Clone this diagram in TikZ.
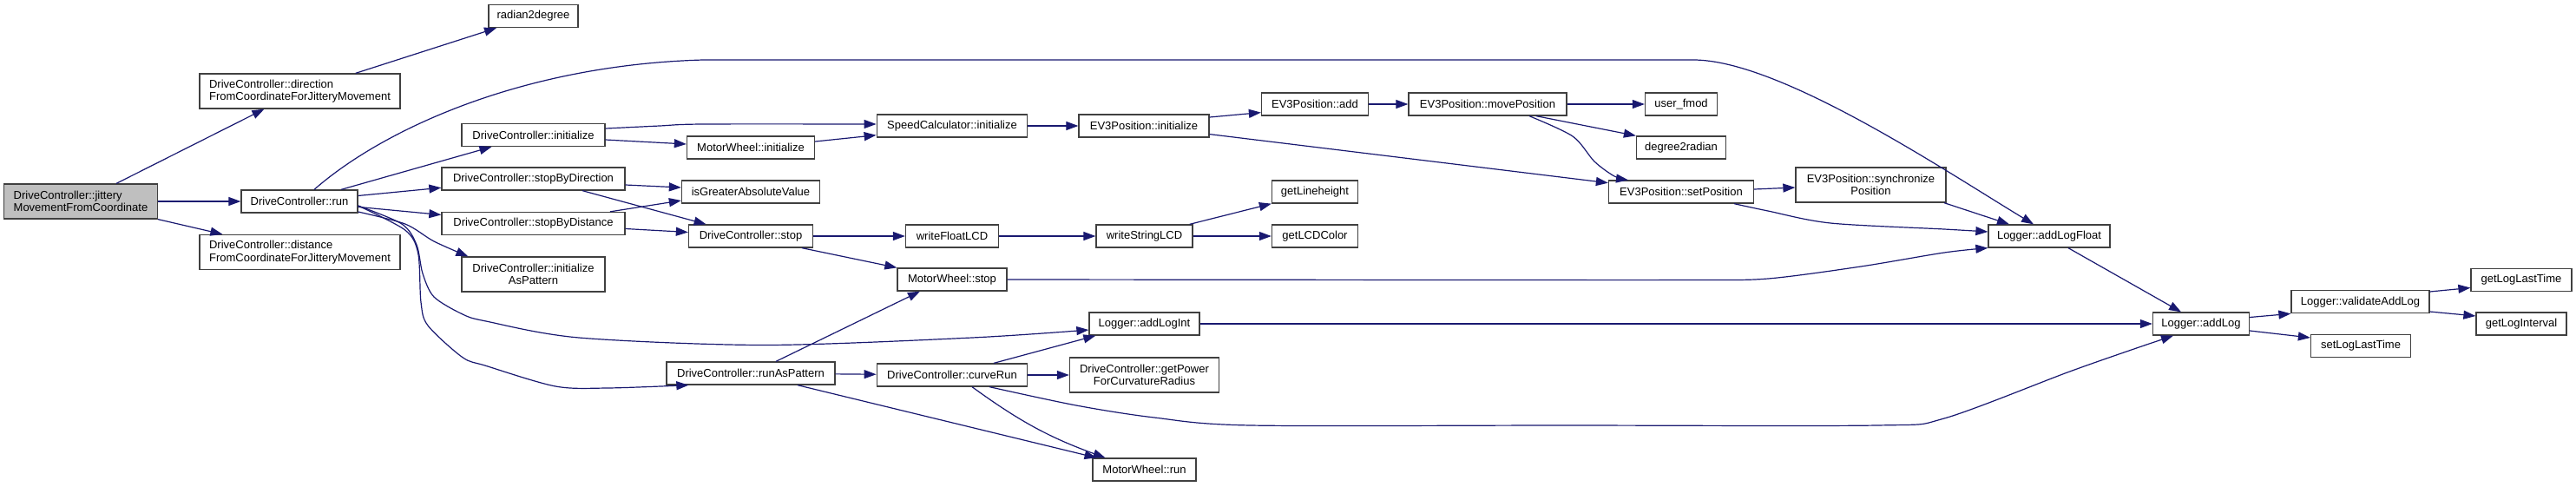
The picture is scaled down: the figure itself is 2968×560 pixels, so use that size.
\documentclass[tikz,border=0pt]{standalone}
\usepackage{fontspec}
\setmainfont{Liberation Sans}
\usetikzlibrary{arrows.meta}

\definecolor{edgeblue}{HTML}{191970}
\definecolor{rootgrey}{HTML}{BFBFBF}
\definecolor{boxline}{HTML}{404040}

\tikzset{
    fn/.style={draw=boxline, line width=1.3pt, fill=white, font=\fontsize{13}{14.6}\selectfont,
        inner xsep=5pt, inner ysep=0pt, minimum height=26pt, align=center},
    fntwo/.style={fn, minimum height=40pt},
    rootfn/.style={fntwo, fill=rootgrey, align=left},
    call/.style={draw=edgeblue, line width=1.2pt, -{Triangle[length=14pt,width=10pt]}},
}

\begin{document}
\begin{tikzpicture}[x=1pt, y=-1pt]
            \useasboundingbox (0,0) rectangle (2968,560);

            % callers and first level
            \node[rootfn, minimum width=177pt] (jittery) at (93,232) {DriveController::jittery\\MovementFromCoordinate};
            \node[fntwo, align=left, minimum width=231pt] (direction) at (345.5,105) {DriveController::direction\\FromCoordinateForJitteryMovement};
            \node[fn, minimum width=134pt] (run) at (345,232) {DriveController::run};
            \node[fntwo, align=left, minimum width=231pt] (distance) at (345.5,290.5) {DriveController::distance\\FromCoordinateForJitteryMovement};

            \node[fn, minimum width=103pt] (rad2deg) at (614.5,18.6) {radian2degree};
            \node[fn, minimum width=165pt] (dcinit) at (614.5,155.5) {DriveController::initialize};
            \node[fn, minimum width=211pt] (stopdir) at (614.5,206) {DriveController::stopByDirection};
            \node[fn, minimum width=211pt] (stopdist) at (614.5,257.5) {DriveController::stopByDistance};
            \node[fntwo, minimum width=165pt] (initpat) at (614.5,316) {DriveController::initialize\\AsPattern};

            \node[fn, minimum width=147pt] (mwinit) at (865,170) {MotorWheel::initialize};
            \node[fn, minimum width=159pt] (greater) at (865,221) {isGreaterAbsoluteValue};
            \node[fn, minimum width=143pt] (dcstop) at (865,272) {DriveController::stop};
            \node[fn, minimum width=194pt] (runpat) at (865,430) {DriveController::runAsPattern};

            \node[fn, minimum width=173.5pt] (speedinit) at (1097,145) {SpeedCalculator::initialize};
            \node[fn, minimum width=107pt] (writefloat) at (1097,272) {writeFloatLCD};
            \node[fn, minimum width=126pt] (mwstop) at (1097,322) {MotorWheel::stop};
            \node[fn, minimum width=173.5pt] (curverun) at (1097,432) {DriveController::curveRun};

            \node[fn, minimum width=150pt] (ev3init) at (1318,145) {EV3Position::initialize};
            \node[fn, minimum width=111pt] (writestring) at (1318.5,272) {writeStringLCD};
            \node[fn, minimum width=127pt] (addlogint) at (1318.5,373) {Logger::addLogInt};
            \node[fntwo, minimum width=172pt] (getpower) at (1318.5,432) {DriveController::getPower\\ForCurvatureRadius};
            \node[fn, minimum width=119pt] (mwrun) at (1318.5,541) {MotorWheel::run};

            \node[fn, minimum width=123pt] (ev3add) at (1515,120) {EV3Position::add};
            \node[fn, minimum width=99pt] (lineheight) at (1515,221) {getLineheight};
            \node[fn, minimum width=99pt] (lcdcolor) at (1515,272) {getLCDColor};

            \node[fn, minimum width=182pt] (movepos) at (1714,120) {EV3Position::movePosition};
            \node[fn, minimum width=83pt] (fmod) at (1937,120) {user\_fmod};
            \node[fn, minimum width=103pt] (deg2rad) at (1937,170) {degree2radian};
            \node[fn, minimum width=167pt] (setpos) at (1937,221) {EV3Position::setPosition};
            \node[fntwo, minimum width=173pt] (syncpos) at (2155.5,213) {EV3Position::synchronize\\Position};

            \node[fn, minimum width=140pt] (addlogfloat) at (2361,272) {Logger::addLogFloat};
            \node[fn, minimum width=111pt] (addlog) at (2536,373) {Logger::addLog};
            \node[fn, minimum width=159pt] (validate) at (2719.5,347.7) {Logger::validateAddLog};
            \node[fn, minimum width=115pt] (setlast) at (2720,398.6) {setLogLastTime};
            \node[fn, minimum width=116pt] (getlast) at (2905,322.5) {getLogLastTime};
            \node[fn, minimum width=104pt] (getint) at (2905,373) {getLogInterval};

            % root
            \draw[call] (jittery) -- (direction);
            \draw[call] (jittery) -- (run);
            \draw[call] (jittery) -- (distance);
            \draw[call] (direction) -- (rad2deg);

            % run
            \draw[call] ([xshift=17pt]run.north) .. controls (440,150) and (600,75) .. (810,69) -- (1951,69) .. controls (2051,69) and (2243,198) .. ([xshift=-18pt]addlogfloat.north);
            \draw[call] (run) -- (dcinit);
            \draw[call] (run) -- (stopdir);
            \draw[call] (run) -- (stopdist);
            \draw[call] plot[smooth] coordinates {([yshift=-12pt]run.east) (466.7,258) (500,278) ([xshift=8pt]initpat.north west)};
            \draw[call] plot[smooth] coordinates {([yshift=-5pt]run.east) (463,258) (480,282) (487,315) (500,342) (533,362) (560,370) (667,389) (881,397.5) (1120,389) ([yshift=-7pt]addlogint.west)};
            \draw[call] plot[smooth] coordinates {([yshift=-5pt]run.east) (466.7,265) (481.7,291.7) (485,348) (493,375) (533,411.7) (560,421.4) (640,445) (700,447) ([xshift=26pt]runpat.south west)};

            % initialize
            \draw[call] plot[smooth] coordinates {([yshift=7.5pt]dcinit.east) (760,145) (810,143) ([yshift=2pt]speedinit.west)};
            \draw[call] ([yshift=-5.5pt]dcinit.east) -- ([yshift=4pt]mwinit.west);
            \draw[call] ([yshift=7pt]mwinit.east) -- ([yshift=-10.7pt]speedinit.west);
            \draw[call] (speedinit) -- (ev3init);
            \draw[call] ([yshift=10pt]ev3init.east) -- ([yshift=-9.6pt]ev3add.west);
            \draw[call] ([yshift=-9.6pt]ev3init.east) -- ([yshift=10.3pt]setpos.west);
            \draw[call] (ev3add) -- (movepos);
            \draw[call] (movepos) -- (fmod);
            \draw[call] ([xshift=56pt]movepos.south) -- (deg2rad.north west);
            \draw[call] plot[smooth] coordinates {([xshift=48pt]movepos.south) (1812,157) (1837,186) (1860,203) ([xshift=-61pt]setpos.north)};
            \draw[call] ([yshift=3pt]setpos.east) -- ([yshift=-3pt]syncpos.west);
            \draw[call] plot[smooth] coordinates {([xshift=61pt]setpos.south) (2037,243) (2109,257) (2240,264) ([yshift=5pt]addlogfloat.west)};
            \draw[call] ([xshift=84.5pt]syncpos.south) -- ([xshift=-46pt]addlogfloat.north);

            % stop
            \draw[call] ([yshift=-7pt]stopdir.east) -- ([yshift=5pt]greater.west);
            \draw[call] ([xshift=56.5pt]stopdir.south) -- ([xshift=-51.4pt]dcstop.north);
            \draw[call] ([xshift=88.5pt]stopdist.north) -- ([yshift=-10pt]greater.west);
            \draw[call] ([yshift=-6pt]stopdist.east) -- ([yshift=4.5pt]dcstop.west);
            \draw[call] (dcstop) -- (writefloat);
            \draw[call] (writefloat) -- (writestring);
            \draw[call] ([xshift=-4pt]writestring.north east) -- (lineheight.south west);
            \draw[call] (writestring) -- (lcdcolor);
            \draw[call] ([xshift=59pt]dcstop.south) -- (mwstop.north west);
            \draw[call] plot[smooth] coordinates {(mwstop.east) (1700,322.5) (1951,322.5) (2037,321) (2144,307) (2240,291) (addlogfloat.south west)};

            % runAsPattern
            \draw[call] ([xshift=29pt]runpat.north) -- ([xshift=-37pt]mwstop.south);
            \draw[call] (runpat) -- (curverun);
            \draw[call] ([xshift=54pt]runpat.south) -- ([xshift=-55pt]mwrun.north);
            \draw[call] ([xshift=48pt]curverun.north) -- ([xshift=8pt]addlogint.south west);
            \draw[call] (curverun) -- (getpower);
            \draw[call] ([xshift=23pt]curverun.south) to[bend right=8] ([xshift=-45pt]mwrun.north);
            \draw[call] plot[smooth] coordinates {([xshift=43pt]curverun.south) (1240,467) (1330,481) (1441,490) (1800,490) (2162,490) (2240,482) (2383,428.6) (2454,403.6) ([xshift=-32pt]addlog.south)};

            % logger
            \draw[call] (addlogint) -- (addlog);
            \draw[call] ([xshift=22pt]addlogfloat.south) -- ([xshift=-23pt]addlog.north);
            \draw[call] ([yshift=7.5pt]addlog.east) -- (validate.south west);
            \draw[call] ([yshift=-8pt]addlog.east) -- ([yshift=9.6pt]setlast.west);
            \draw[call] ([yshift=11.7pt]validate.east) -- ([yshift=-9pt]getlast.west);
            \draw[call] ([yshift=-11.3pt]validate.east) -- ([yshift=9pt]getint.west);
        \end{tikzpicture}
\end{document}
